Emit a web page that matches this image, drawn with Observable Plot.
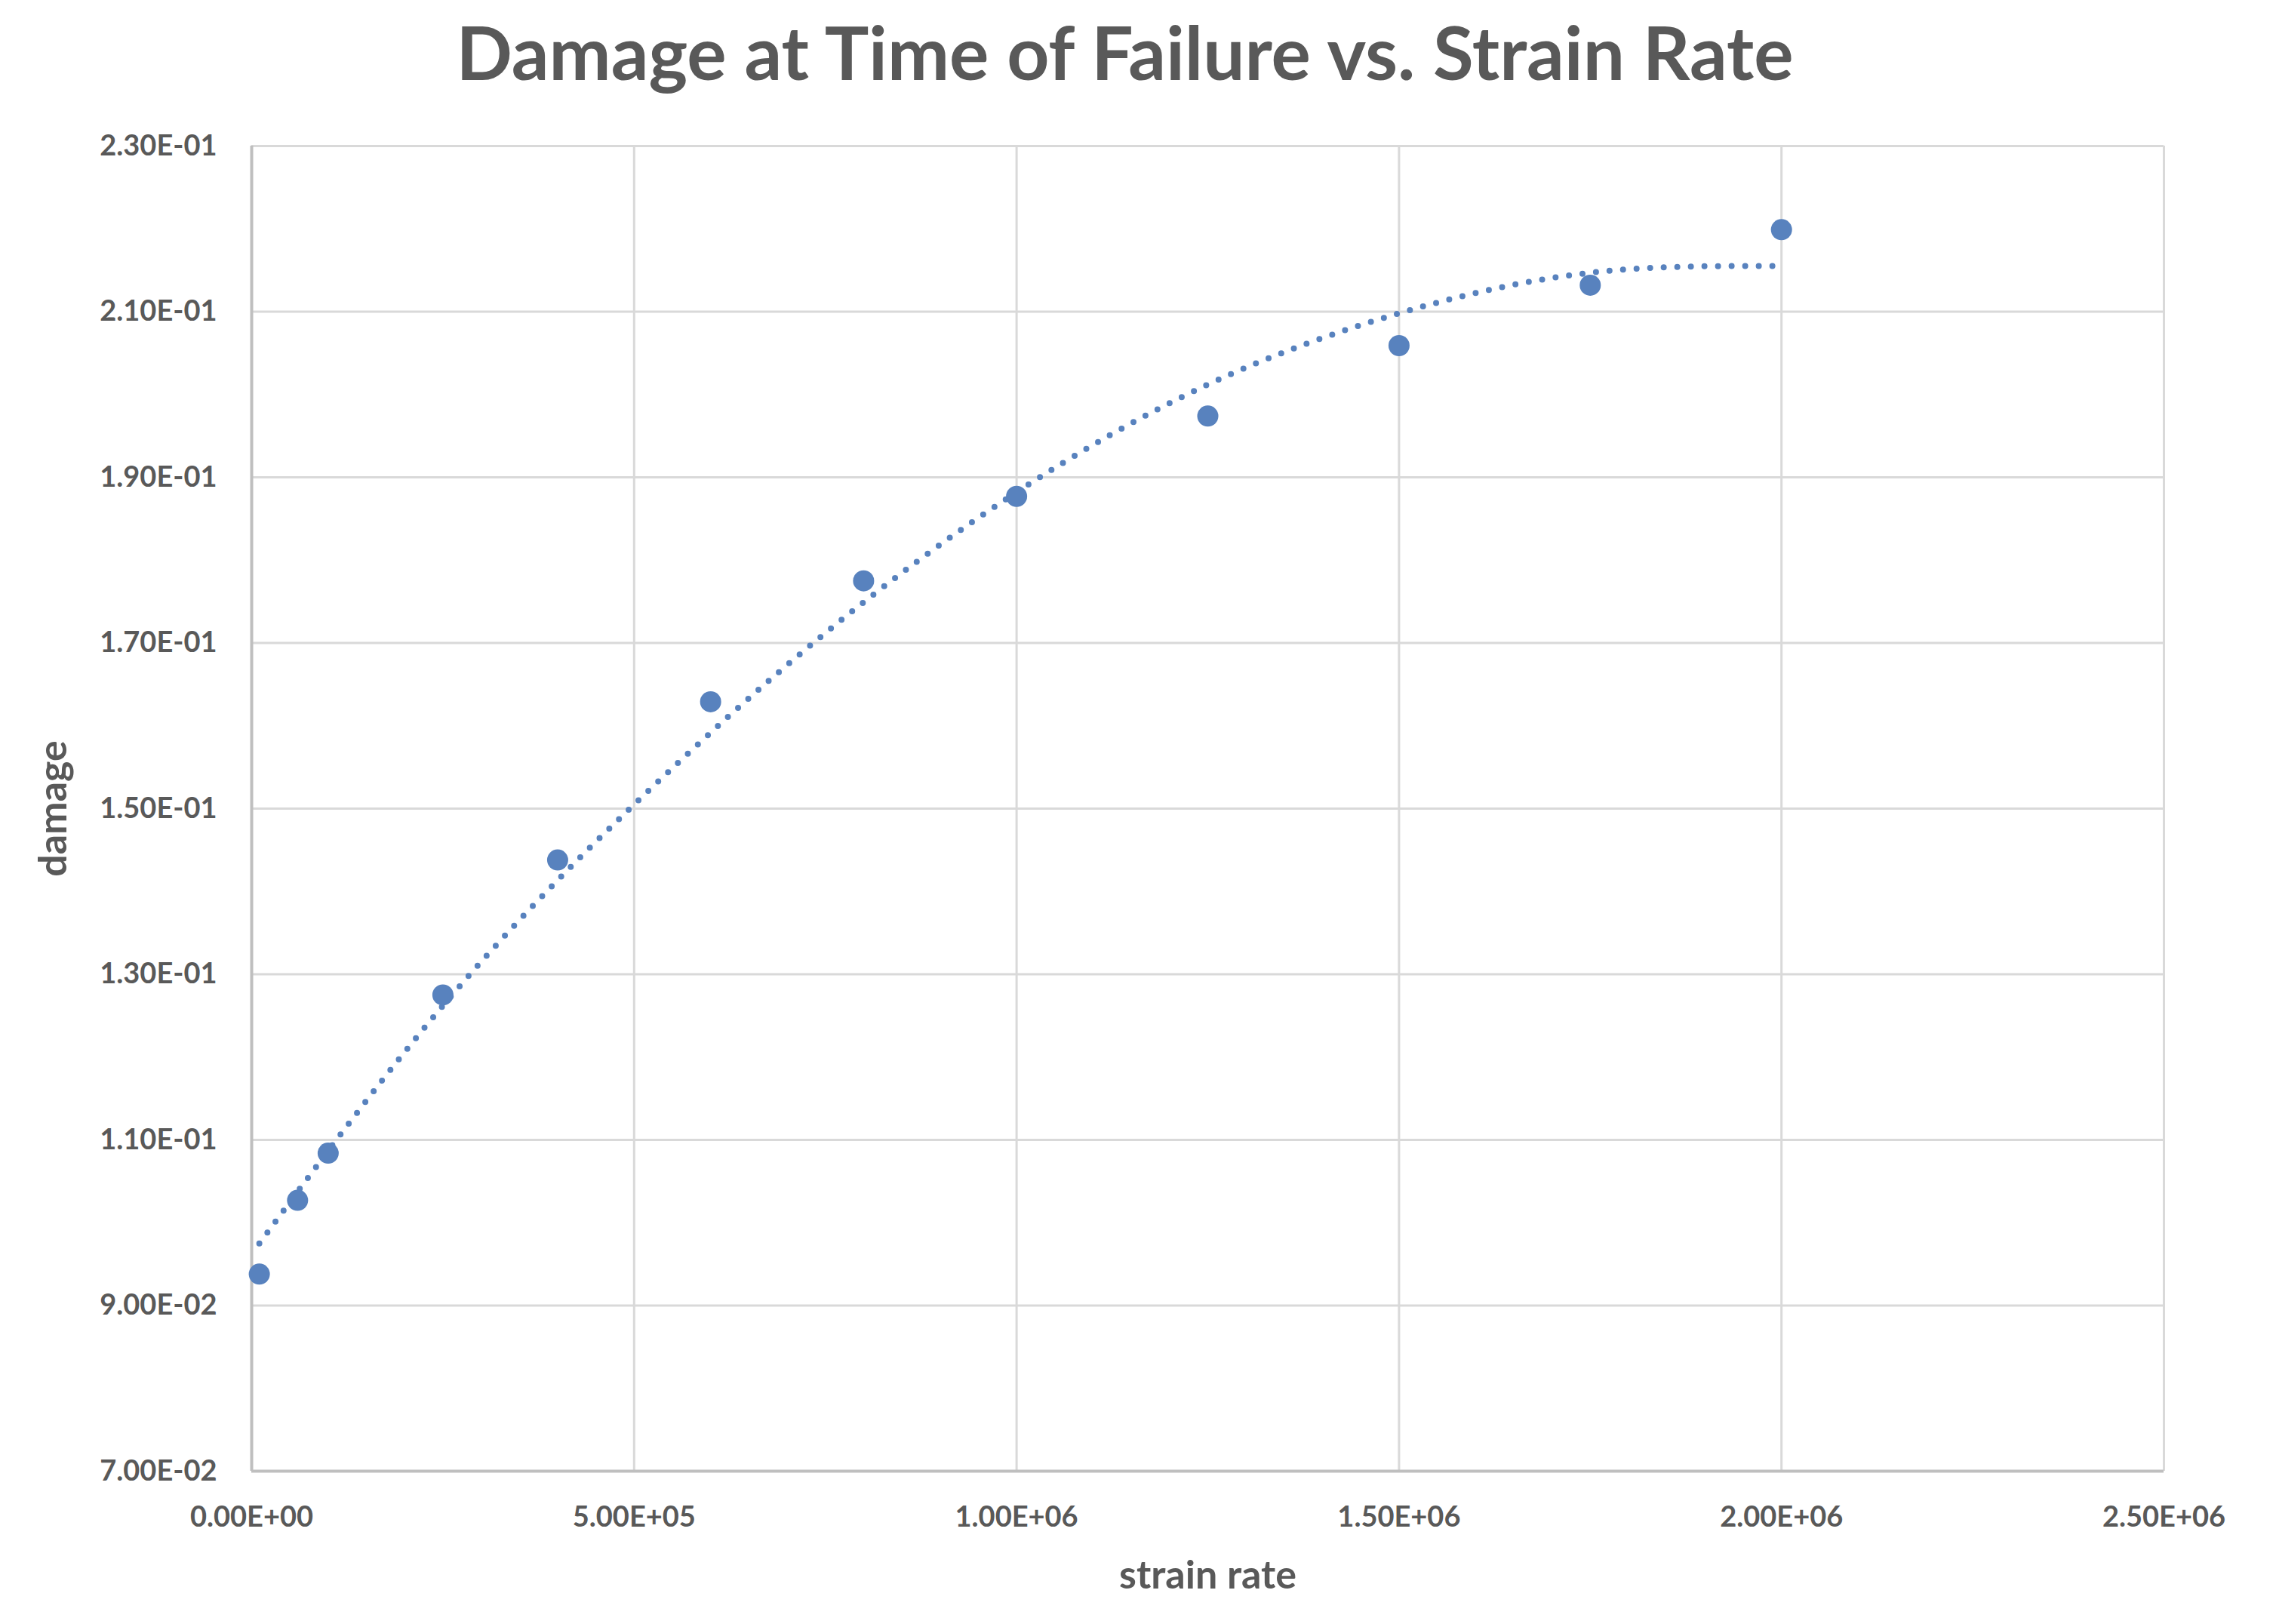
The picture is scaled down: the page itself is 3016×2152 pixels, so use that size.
<!DOCTYPE html>
<html>
<head>
<meta charset="utf-8">
<script src="https://cdn.jsdelivr.net/npm/d3@7"></script>
<script src="https://cdn.jsdelivr.net/npm/@observablehq/plot@0.6"></script>
<style>
  html, body { margin: 0; padding: 0; background: #ffffff; }
  #chart svg { display: block; }
</style>
</head>
<body>
<div id="chart"></div>
<script>
// ---- data ----
const strainRate = [1e4, 6e4, 1e5, 2.5e5, 4e5, 6e5, 8e5, 1e6, 1.25e6, 1.5e6, 1.75e6, 2e6];
const damage     = [0.0938, 0.1027, 0.1084, 0.1275, 0.1438, 0.1629, 0.1775, 0.1877, 0.1974, 0.2059, 0.2132, 0.2199];

// dotted trendline
const trendX = [1e4, 2.5e5, 5e5, 7.5e5, 1e6, 1.25e6, 1.5e6, 1.75e6, 2e6];
const trendY = [0.0975, 0.1262, 0.1505, 0.1712, 0.1882, 0.2012, 0.2098, 0.2147, 0.2155];

const xTicks = [0, 5e5, 1e6, 1.5e6, 2e6, 2.5e6];
const yTicks = [0.07, 0.09, 0.11, 0.13, 0.15, 0.17, 0.19, 0.21, 0.23];

const titleText = "Damage at Time of Failure vs. Strain Rate";
const xLabel = "strain rate";
const yLabel = "damage";

// ---- build tables ----
const points = strainRate.map((x, i) => ({x, y: damage[i]}));
const trend = trendX.map((x, i) => ({x, y: trendY[i]}));

const sci = d => {
  const [m, e] = d.toExponential(2).split("e");
  const n = +e;
  return `${m}E${n < 0 ? "-" : "+"}${String(Math.abs(n)).padStart(2, "0")}`;
};

const ink = "#595959";
const blue = "#5882BE";
const font = "Lato, 'Noto Sans', sans-serif";

const chart = Plot.plot({
  width: 3016,
  height: 2152,
  marginLeft: 333,
  marginRight: 149,
  marginTop: 193,
  marginBottom: 203,
  style: {fontFamily: font, background: "#ffffff", color: ink},
  x: {domain: [0, 2.5e6]},
  y: {domain: [0.07, 0.23]},
  marks: [
    Plot.gridX(xTicks, {stroke: "#d9d9d9", strokeOpacity: 1, strokeWidth: 3}),
    Plot.gridY(yTicks, {stroke: "#d9d9d9", strokeOpacity: 1, strokeWidth: 3}),
    Plot.ruleX([0], {stroke: "#bfbfbf", strokeWidth: 4}),
    Plot.ruleY([0.07], {stroke: "#bfbfbf", strokeWidth: 4}),
    Plot.axisX(xTicks, {tickSize: 0, tickPadding: 47, tickFormat: sci, fontSize: 38, fontWeight: "bold", fill: ink, label: null}),
    Plot.axisY(yTicks, {tickSize: 0, tickPadding: 46, tickFormat: sci, fontSize: 38, fontWeight: "bold", fill: ink, label: null}),
    Plot.line(trend, {x: "x", y: "y", curve: "natural", stroke: blue, strokeWidth: 8, strokeDasharray: "0 18", strokeLinecap: "round"}),
    Plot.dot(points, {x: "x", y: "y", r: 14, fill: blue, stroke: "none"}),
    Plot.text([titleText], {text: d => d, frameAnchor: "top", textAnchor: "middle", dx: -110, dy: -119, lineAnchor: "middle", fontSize: 98, fontWeight: "bold", fill: ink}),
    Plot.text([xLabel], {text: d => d, frameAnchor: "bottom", textAnchor: "middle", dy: 139, lineAnchor: "middle", fontSize: 52, fontWeight: "bold", fill: ink}),
    Plot.text([yLabel], {text: d => d, frameAnchor: "left", textAnchor: "middle", rotate: -90, dx: -262, lineAnchor: "middle", fontSize: 52, fontWeight: "bold", fill: ink})
  ]
});
document.getElementById("chart").append(chart);
</script>
</body>
</html>
